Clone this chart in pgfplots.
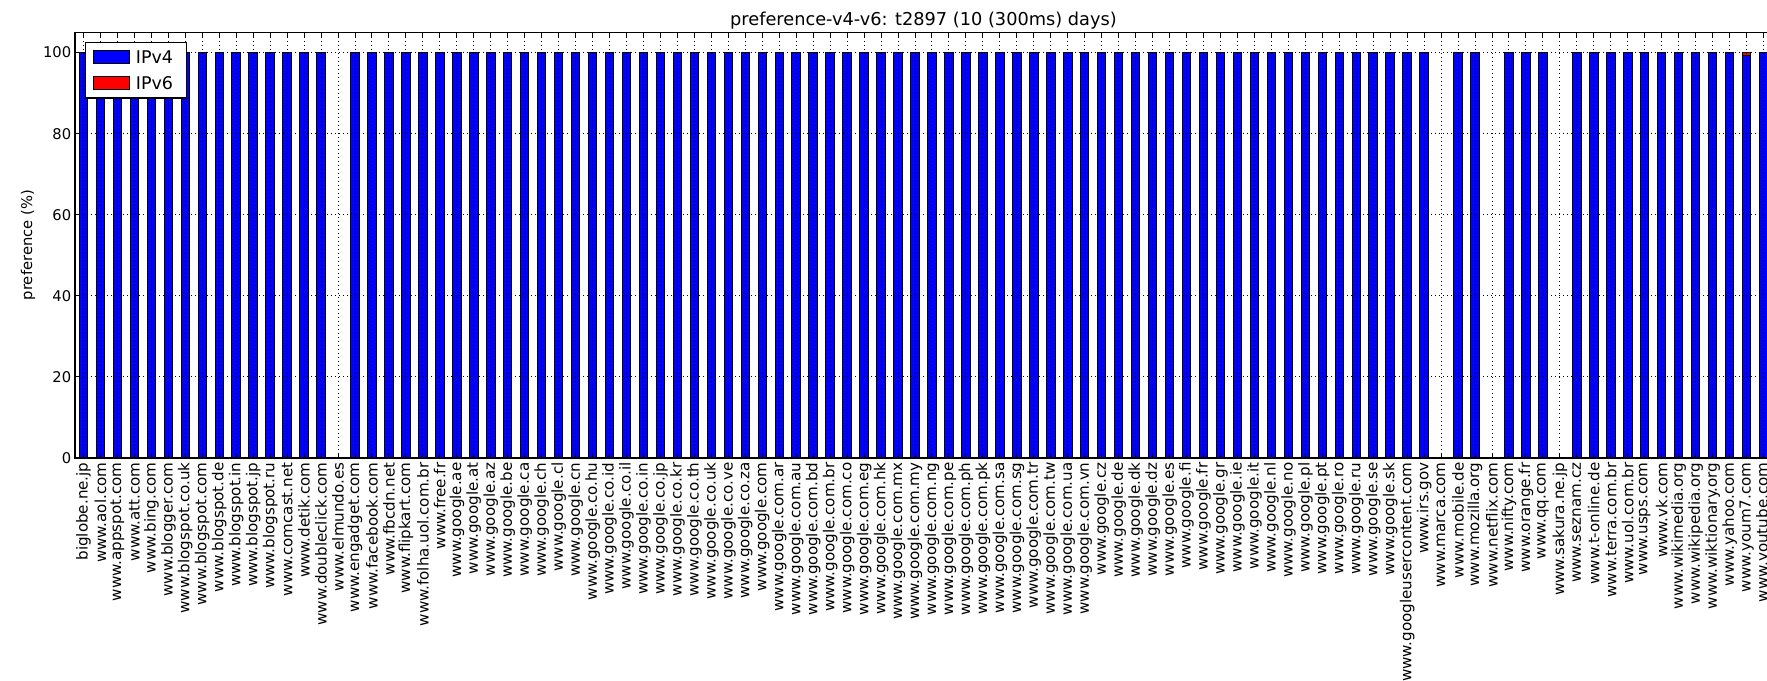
\documentclass[border=0pt]{standalone}
\usepackage{fontspec}
\setmainfont{DejaVu Sans}
\usepackage{pgfplots}
\pgfplotsset{compat=1.18}
\definecolor{mblue}{RGB}{0,0,255}
\definecolor{mred}{RGB}{255,0,0}
\pgfplotsset{mypatch/.style={legend image code/.code={\draw[##1,draw=black,line width=0.4pt] (0pt,-2.6pt) rectangle (14.4pt,2.6pt);}}}
\begin{document}
\begin{tikzpicture}
\begin{axis}[
  at={(0,0)}, anchor=south west,
  scale only axis, width=678.8pt, height=170.28pt,
  xmin=-0.5, xmax=99.5, ymin=0, ymax=105,
  axis on top,
  axis line style={line width=0.5pt},
  tick pos=both, tick align=inside, major tick length=1.8pt,
  tick style={black, line width=0.4pt},
  xtick={0,...,99},
  xticklabels={biglobe.ne.jp,www.aol.com,www.appspot.com,www.att.com,www.bing.com,www.blogger.com,www.blogspot.co.uk,www.blogspot.com,www.blogspot.de,www.blogspot.in,www.blogspot.jp,www.blogspot.ru,www.comcast.net,www.detik.com,www.doubleclick.com,www.elmundo.es,www.engadget.com,www.facebook.com,www.fbcdn.net,www.flipkart.com,www.folha.uol.com.br,www.free.fr,www.google.ae,www.google.at,www.google.az,www.google.be,www.google.ca,www.google.ch,www.google.cl,www.google.cn,www.google.co.hu,www.google.co.id,www.google.co.il,www.google.co.in,www.google.co.jp,www.google.co.kr,www.google.co.th,www.google.co.uk,www.google.co.ve,www.google.co.za,www.google.com,www.google.com.ar,www.google.com.au,www.google.com.bd,www.google.com.br,www.google.com.co,www.google.com.eg,www.google.com.hk,www.google.com.mx,www.google.com.my,www.google.com.ng,www.google.com.pe,www.google.com.ph,www.google.com.pk,www.google.com.sa,www.google.com.sg,www.google.com.tr,www.google.com.tw,www.google.com.ua,www.google.com.vn,www.google.cz,www.google.de,www.google.dk,www.google.dz,www.google.es,www.google.fi,www.google.fr,www.google.gr,www.google.ie,www.google.it,www.google.nl,www.google.no,www.google.pl,www.google.pt,www.google.ro,www.google.ru,www.google.se,www.google.sk,www.googleusercontent.com,www.irs.gov,www.marca.com,www.mobile.de,www.mozilla.org,www.netflix.com,www.nifty.com,www.orange.fr,www.qq.com,www.sakura.ne.jp,www.seznam.cz,www.t-online.de,www.terra.com.br,www.uol.com.br,www.usps.com,www.vk.com,www.wikimedia.org,www.wikipedia.org,www.wiktionary.org,www.yahoo.com,www.youm7.com,www.youtube.com},
  ytick={0,20,40,60,80,100},
  grid=major,
  major grid style={black, line width=0.4pt, dash pattern=on 0.4pt off 1.2pt},
  xticklabel style={rotate=90, anchor=east, inner sep=0pt, font=\fontsize{6.05}{7}\selectfont},
  xticklabel shift=1.6pt,
  yticklabel style={inner sep=0pt, font=\fontsize{5.9}{7}\selectfont},
  yticklabel shift=1.3pt,
  /pgf/number format/assume math mode=true,
  ylabel={preference (\%)},
  every axis y label/.style={at={(axis description cs:0,0.5)}, xshift=-18.8pt, rotate=90, anchor=center, font=\fontsize{5.9}{7}\selectfont},
  title={preference-v4-v6: t2897 (10 (300ms) days)},
  every axis title/.style={font=\fontsize{7.1}{8}\selectfont, at={(axis description cs:0.5,1)}, anchor=base, yshift=2.9pt},
  legend style={at={(axis description cs:0,1)}, anchor=north west, xshift=4pt, yshift=-3.8pt,
    draw=black, line width=0.5pt, fill=white, font=\fontsize{7}{8}\selectfont,
    inner xsep=2.8pt, inner ysep=0.6pt, row sep=0pt,
    nodes={text height=5.2pt, text depth=0.3pt, inner sep=2.5pt}},
  legend cell align=left,
]
\addplot[ybar, bar width=0.5, bar shift=0pt, fill=mred, draw=black, line width=0.4pt, forget plot] coordinates {(98,100)};
\addplot[ybar, bar width=0.5, bar shift=0pt, fill=mblue, draw=black, line width=0.4pt, mypatch] coordinates {
(0,100) (1,100) (2,100) (3,100) (4,100) (5,100) (6,100) (7,100) (8,100) (9,100)
(10,100) (11,100) (12,100) (13,100) (14,100) (16,100) (17,100) (18,100) (19,100)
(20,100) (21,100) (22,100) (23,100) (24,100) (25,100) (26,100) (27,100) (28,100) (29,100)
(30,100) (31,100) (32,100) (33,100) (34,100) (35,100) (36,100) (37,100) (38,100) (39,100)
(40,100) (41,100) (42,100) (43,100) (44,100) (45,100) (46,100) (47,100) (48,100) (49,100)
(50,100) (51,100) (52,100) (53,100) (54,100) (55,100) (56,100) (57,100) (58,100) (59,100)
(60,100) (61,100) (62,100) (63,100) (64,100) (65,100) (66,100) (67,100) (68,100) (69,100)
(70,100) (71,100) (72,100) (73,100) (74,100) (75,100) (76,100) (77,100) (78,100) (79,100)
(81,100) (82,100) (84,100) (85,100) (86,100) (88,100) (89,100)
(90,100) (91,100) (92,100) (93,100) (94,100) (95,100) (96,100) (97,100) (98,99.3) (99,100)
};
\addlegendentry{IPv4}
\addlegendimage{mypatch, fill=mred}
\addlegendentry{IPv6}
\end{axis}
\pgfresetboundingbox
\path[use as bounding box] (-30pt,-89.2pt) rectangle (676.8pt,183.2pt);
\end{tikzpicture}
\end{document}
